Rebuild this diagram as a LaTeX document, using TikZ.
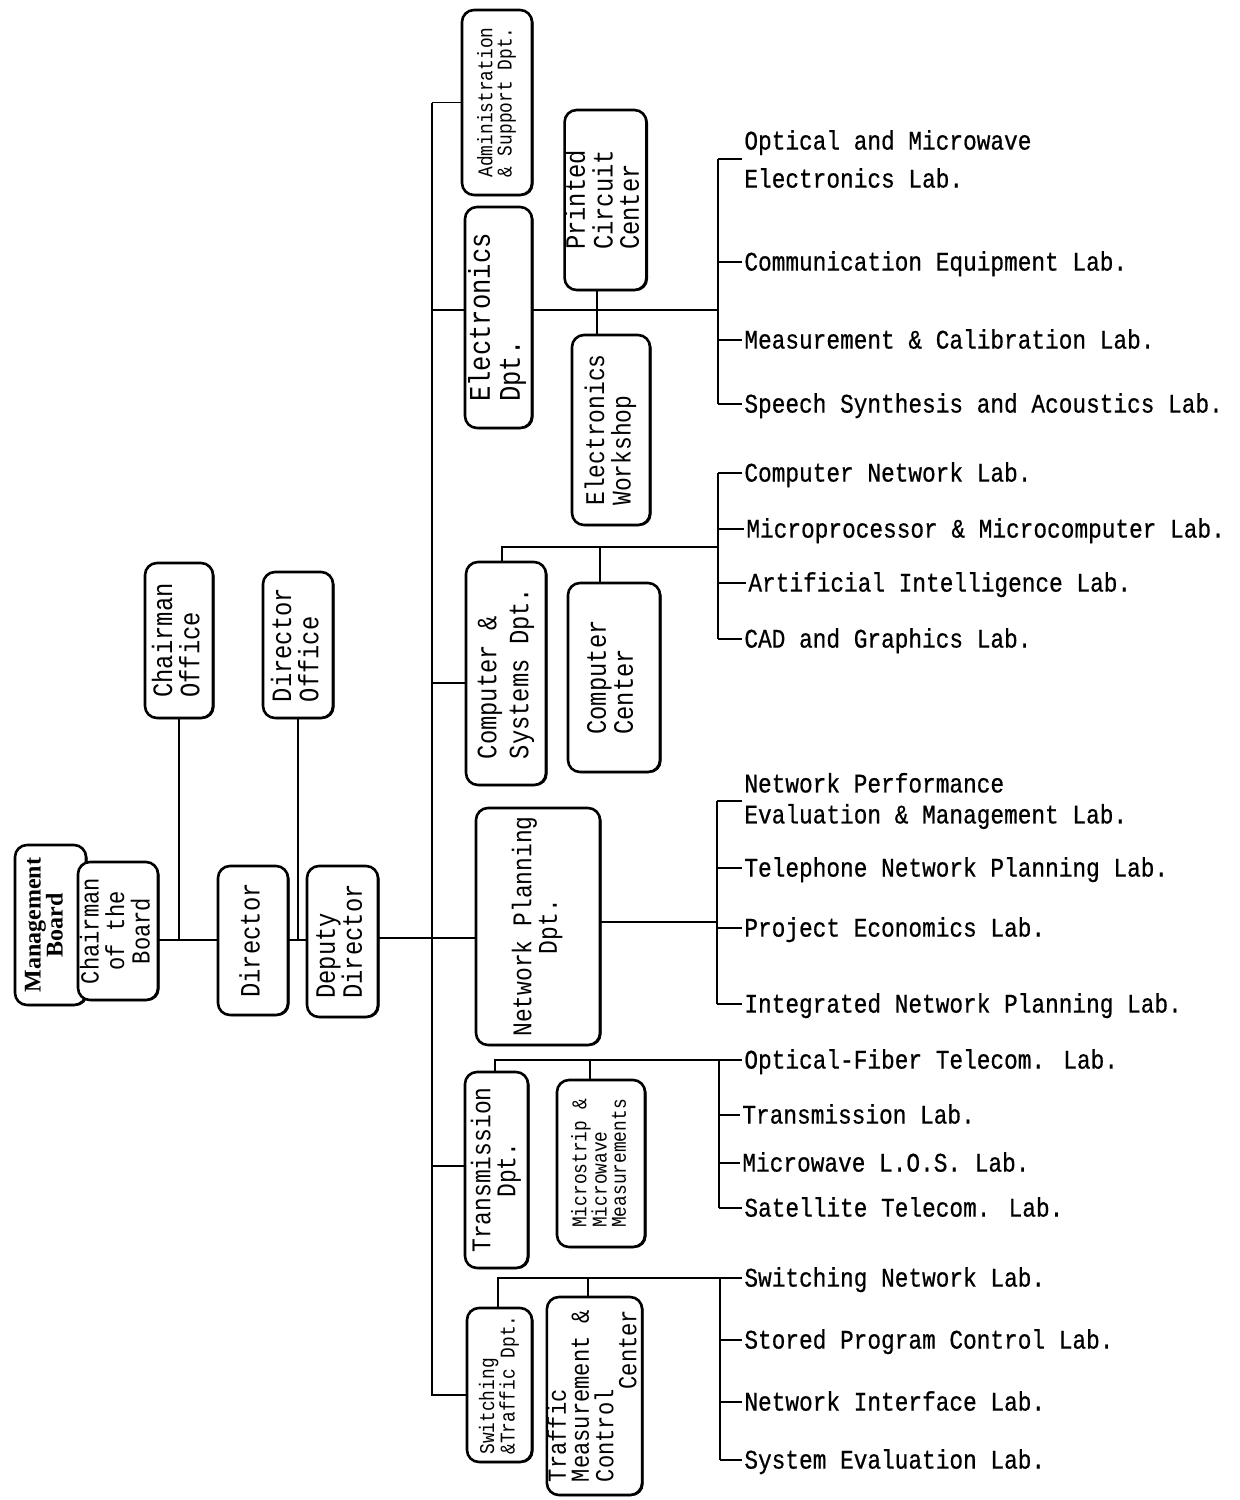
\documentclass[tikz,border=0pt]{standalone}
\usepackage{fontspec}
\setmainfont{Liberation Mono}
\newfontfamily\lf[FakeStretch=0.85]{Liberation Mono}
\newfontfamily\lbf[FakeStretch=0.85,FakeBold=0.6]{Liberation Mono}
\newfontfamily\mbf{Liberation Serif}
\usetikzlibrary{calc,shadows}
\tikzset{
  box/.style={draw, line width=1.3pt, rounded corners=6pt, fill=white, inner sep=0pt,
    drop shadow={shadow xshift=0.8pt, shadow yshift=-0.5pt, opacity=1, fill=black}},
  con/.style={line width=0.7pt},
  trunkline/.style={line width=1.1pt},
  brk/.style={line width=0.9pt},
  lab/.style={anchor=west, inner sep=1pt, font=\lbf\fontsize{13.4}{16}\selectfont, text height=8.6pt, text depth=0pt},
  labtwo/.style={anchor=west, inner sep=1pt, align=left},
}
% \obox[style]{name}{x1}{y1}{x2}{y2}{content}
\newcommand\obox[7][]{%
  \pgfmathsetmacro\bw{(#5-#3)*0.5}%
  \pgfmathsetmacro\bh{(#6-#4)*0.5}%
  \node[box, minimum width=\bw pt, minimum height=\bh pt, #1] (#2) at ({(#3+#5)/2},{(#4+#6)/2}) {#7};}
% \rt{size}{skip}{align}{text}
\newcommand\rt[4]{\rotatebox{90}{\lf\fontsize{#1}{#2}\selectfont\begin{tabular}{@{}#3@{}}#4\end{tabular}}}
\begin{document}
\begin{tikzpicture}[x=0.5pt,y=-0.5pt]
\useasboundingbox (0,0) rectangle (1240,1500);
% ---------- left group ----------
\obox{mb}{15}{845}{86}{1005}{}
\node[rotate=90, inner sep=0pt, align=center, font=\mbf\bfseries\fontsize{12}{11}\selectfont] (mbt) at (44,925) {Management\\Board};
\obox{cb}{78}{862}{158}{1000}{\rt{13}{11}{c}{Chairman\\of the\\Board}}
\obox{co}{145}{563}{213}{718}{\rt{14}{11.5}{l}{Chairman\\Office}}
\obox{do}{263}{572}{333}{718}{\rt{14}{11.5}{l}{Director\\Office}}
\obox{dir}{218}{866}{288}{1015}{\rt{14}{12}{l}{Director}}
\obox{dep}{307}{866}{378}{1017}{\rt{14}{11.5}{l}{Deputy\\Director}}
% ---------- departments ----------
\obox{adm}{462}{10}{532}{195}{\rt{10.5}{8.5}{l}{Administration\\\& Support Dpt.}}
\obox{el}{465}{207}{532}{428}{\rt{15}{15}{l}{Electronics\\Dpt.}}
\obox{pcc}{566}{110}{645}{290}{\rt{14}{12.5}{l}{Printed\\Circuit\\Center}}
\obox{ew}{572}{335}{650}{525}{\rt{13.5}{11.5}{l}{Electronics\\Workshop}}
\obox{csd}{466}{562}{546}{785}{\rt{14}{16}{l}{Computer \&\\Systems Dpt.}}
\obox{cc}{568}{583}{660}{772}{\rt{14}{13.5}{l}{Computer\\Center}}
\obox{np}{476}{808}{600}{1045}{\rt{13.5}{12.5}{c}{Network Planning\\Dpt.}}
\obox{tdpt}{465}{1072}{528}{1268}{\rt{13.5}{11.5}{c}{Transmission\\Dpt.}}
\obox{ms}{557}{1080}{645}{1247}{\rt{10.5}{8.5}{l}{Microstrip \&\\Microwave\\Measurements}}
\obox{sw}{467}{1308}{532}{1462}{\rt{10.5}{9}{l}{Switching\\\&Traffic Dpt.}}
\obox{tm}{547}{1297}{642}{1495}{\rt{13}{9.5}{l}{Traffic\\Measurement \&\\Control\\\hfill Center}}
% ---------- labs ----------
\node[labtwo, font=\lbf\fontsize{13.4}{19}\selectfont] (l1a) at (742,159) {Optical and Microwave\\Electronics Lab.};
\node[lab] (l1b) at (742,262) {Communication Equipment Lab.};
\node[lab] (l1c) at (742,340) {Measurement \& Calibration Lab.};
\node[lab] (l1d) at (742,404) {Speech Synthesis and Acoustics Lab.};
\node[lab] (l2a) at (742,473) {Computer Network Lab.};
\node[lab] (l2b) at (744,529) {Microprocessor \& Microcomputer Lab.};
\node[lab] (l2c) at (746,583) {Artificial Intelligence Lab.};
\node[lab] (l2d) at (742,639) {CAD and Graphics Lab.};
\node[labtwo, font=\lbf\fontsize{13.4}{15.5}\selectfont] (l3a) at (742,801) {Network Performance\\Evaluation \& Management Lab.};
\node[lab] (l3b) at (742,868) {Telephone Network Planning Lab.};
\node[lab] (l3c) at (742,928) {Project Economics Lab.};
\node[lab] (l3d) at (742,1004) {Integrated Network Planning Lab.};
\node[lab] (l4a) at (742,1060) {Optical-Fiber Telecom. Lab.};
\node[lab] (l4b) at (740,1115) {Transmission Lab.};
\node[lab] (l4c) at (740,1163) {Microwave L.O.S. Lab.};
\node[lab] (l4d) at (742,1208) {Satellite Telecom. Lab.};
\node[lab] (l5a) at (742,1278) {Switching Network Lab.};
\node[lab] (l5b) at (742,1340) {Stored Program Control Lab.};
\node[lab] (l5c) at (742,1402) {Network Interface Lab.};
\node[lab] (l5d) at (742,1460) {System Evaluation Lab.};
% ---------- coordinates ----------
\coordinate (tr) at (432,0);
\coordinate (h0) at (0,940);
\coordinate (hd) at (0,938);
\coordinate (he) at (0,310);
\coordinate (hc) at (0,547);
\coordinate (hct) at (0,683);
\coordinate (hn) at (0,922);
\coordinate (ht) at (0,1060);
\coordinate (htb) at (0,1166);
\coordinate (hs) at (0,1278);
\coordinate (hsb) at (0,1395);
\coordinate (vpc) at (597,0);
\coordinate (vdo) at (298,0);
\coordinate (vc1) at (502,0);
\coordinate (vc2) at (600,0);
\coordinate (vt1) at (495,0);
\coordinate (vt2) at (590,0);
\coordinate (vs1) at (498,0);
\coordinate (vs2) at (588,0);
\coordinate (k1) at (718,0);
\coordinate (k2) at (718,0);
\coordinate (k3) at (717,0);
\coordinate (k4) at (719,0);
\coordinate (k5) at (720,0);
% ---------- top management connectors ----------
\draw[con] (cb.east |- h0) -- (dir.west |- h0);
\draw[con] (co.south) -- (co.south |- h0);
\draw[con] (dir.east |- h0) -- (dep.west |- h0);
\draw[con] (do.south -| vdo) -- (vdo |- h0);
\draw[con] (dep.east |- hd) -- (np.west |- hd);
% ---------- trunk ----------
\draw[trunkline] (adm.west -| tr) -- (tr |- hsb) -- (sw.west |- hsb);
\draw[con] (tr |- adm.west) -- (adm.west);
\draw[con] (tr |- he) -- (el.west |- he);
\draw[con] (tr |- hct) -- (csd.west |- hct);
% electronics group
\draw[con] (el.east |- he) -- (k1 |- he);
\draw[con] (pcc.south -| vpc) -- (ew.north -| vpc);
\draw[brk] (k1 |- l1a.west) -- (k1 |- l1d.west);
\foreach \n in {l1a,l1b,l1c,l1d} \draw[con] (k1 |- \n.west) -- (\n.west);
% computer group
\draw[con] (csd.north -| vc1) -- (vc1 |- hc) -- (k2 |- hc);
\draw[con] (cc.north -| vc2) -- (vc2 |- hc);
\draw[brk] (k2 |- l2a.west) -- (k2 |- l2d.west);
\foreach \n in {l2a,l2b,l2c,l2d} \draw[con] (k2 |- \n.west) -- (\n.west);
% network planning group
\draw[con] (np.east |- hn) -- (k3 |- hn);
\draw[brk] (k3 |- l3a.west) -- (k3 |- l3d.west);
\foreach \n in {l3a,l3b,l3c,l3d} \draw[con] (k3 |- \n.west) -- (\n.west);
% transmission group
\draw[con] (tr |- htb) -- (tdpt.west |- htb);
\draw[con] (tdpt.north -| vt1) -- (vt1 |- ht) -- (l4a.west);
\draw[con] (ms.north -| vt2) -- (vt2 |- ht);
\draw[brk] (k4 |- l4a.west) -- (k4 |- l4d.west);
\foreach \n in {l4b,l4c,l4d} \draw[con] (k4 |- \n.west) -- (\n.west);
% switching group
\draw[con] (sw.north -| vs1) -- (vs1 |- hs) -- (l5a.west);
\draw[con] (tm.north -| vs2) -- (vs2 |- hs);
\draw[brk] (k5 |- l5a.west) -- (k5 |- l5d.west);
\foreach \n in {l5b,l5c,l5d} \draw[con] (k5 |- \n.west) -- (\n.west);
\end{tikzpicture}
\end{document}
